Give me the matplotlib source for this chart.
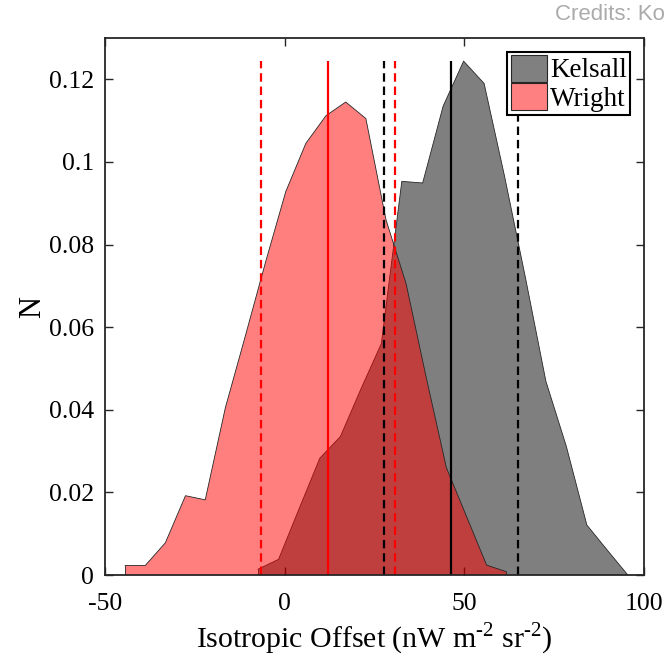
import numpy as np
import matplotlib
matplotlib.use("Agg")
import matplotlib.pyplot as plt
from matplotlib.patches import Patch

# Normalised histograms of the isotropic offset for the two zodiacal-light models
kelsall_x = [-7.4, -1.7, 4.0, 9.8, 15.5, 21.2, 26.9, 32.6, 38.4, 44.1,
             49.8, 55.5, 61.2, 67.0, 72.7, 78.4, 84.1, 89.8, 95.5]
kelsall_n = [0.0014, 0.0038, 0.016, 0.0283, 0.0335, 0.045, 0.056, 0.0953, 0.0949, 0.1135,
             0.1244, 0.119, 0.0965, 0.072, 0.0469, 0.0311, 0.0121, 0.006, 0.0]

wright_x = [-44.4, -38.8, -33.2, -27.6, -22.1, -16.5, -10.9, -5.3, 0.3, 5.9,
            11.5, 17.0, 22.6, 28.2, 33.8, 39.4, 45.0, 50.6, 56.2, 61.7]
wright_n = [0.0023, 0.0023, 0.0078, 0.0192, 0.0182, 0.0405, 0.058, 0.0758, 0.0928, 0.1045,
            0.1112, 0.1145, 0.1105, 0.086, 0.0705, 0.0478, 0.026, 0.0142, 0.0024, 0.0008]

# Median and 68% interval of each distribution
kelsall_median = 46.3
kelsall_bounds = [27.6, 64.8]
wright_median = 12.0
wright_bounds = [-6.5, 30.6]
line_top = 0.1244

x_ticks = [-50, 0, 50, 100]
y_ticks = [0, 0.02, 0.04, 0.06, 0.08, 0.1, 0.12]
y_tick_labels = ["0", "0.02", "0.04", "0.06", "0.08", "0.1", "0.12"]

plt.rcParams["font.family"] = ["Liberation Serif", "DejaVu Serif"]
plt.rcParams["axes.unicode_minus"] = False
plt.rcParams["mathtext.fontset"] = "custom"
plt.rcParams["mathtext.rm"] = "Liberation Serif"

fig = plt.figure(figsize=(6.70, 6.62), dpi=100)
ax = fig.add_axes([0.1567, 0.1314, 0.8045, 0.8112])

edge = "#262626"
ax.fill_between(kelsall_x, kelsall_n, 0, facecolor="black", alpha=0.5,
                edgecolor="none", zorder=2)
ax.plot(kelsall_x, kelsall_n, color=edge, lw=0.6, zorder=2.1)
ax.plot([kelsall_x[0], kelsall_x[0]], [0, kelsall_n[0]], color=edge, lw=0.6, zorder=2.1)
ax.fill_between(wright_x, wright_n, 0, facecolor="red", alpha=0.5,
                edgecolor="none", zorder=3)
ax.plot(wright_x, wright_n, color=edge, lw=0.6, zorder=3.1)
ax.plot([wright_x[0], wright_x[0]], [0, wright_n[0]], color=edge, lw=0.6, zorder=3.1)
ax.plot([wright_x[-1], wright_x[-1]], [0, wright_n[-1]], color=edge, lw=0.6, zorder=3.1)

ax.vlines(wright_median, 0, line_top, colors="red", linestyles="solid", lw=1.6, zorder=4)
ax.vlines(wright_bounds, 0, line_top, colors="red", linestyles=(0, (3.8, 2.2)), lw=1.6, zorder=4)
ax.vlines(kelsall_median, 0, line_top, colors="black", linestyles="solid", lw=1.6, zorder=4)
ax.vlines(kelsall_bounds, 0, line_top, colors="black", linestyles=(0, (3.8, 2.2)), lw=1.6, zorder=4)

ax.set_xlim(-50, 100)
ax.set_ylim(0, 0.13)
ax.set_xticks(x_ticks)
ax.set_xticklabels([str(v) for v in x_ticks])
ax.set_yticks(y_ticks)
ax.set_yticklabels(y_tick_labels)
ax.tick_params(direction="in", top=True, right=True, length=6, width=1.0,
               color=edge, labelsize=18.5)
ax.tick_params(axis="x", pad=13)
ax.tick_params(axis="y", pad=8)
for s in ax.spines.values():
    s.set_color(edge)
    s.set_linewidth(1.3)
    s.set_zorder(5)

ax.set_xlabel("Isotropic Offset (nW m$^{\\mathregular{\u20102}}$ sr$^{\\mathregular{\u20102}}$)",
              fontsize=21.5, labelpad=4)
ax.set_ylabel("N", fontsize=22, labelpad=1)

handles = [Patch(facecolor="#808080", edgecolor=edge, lw=0.8, label="Kelsall"),
           Patch(facecolor="#ff8080", edgecolor=edge, lw=0.8, label="Wright")]
leg = ax.legend(handles=handles, loc="upper right", fontsize=19.5, frameon=True,
                fancybox=False, edgecolor="black", framealpha=1,
                borderpad=0.12, labelspacing=0.0, handlelength=1.35, handleheight=1.15,
                handletextpad=0.12, borderaxespad=0.5)
leg.get_frame().set_linewidth(1.5)
leg.set_zorder(6)

fig.text(555 / 670, 1 - 15 / 662, "Credits: Ko", fontsize=16, color="#ababab",
         family="Liberation Sans", va="center", ha="left")

fig.savefig("out.png", dpi=100)
